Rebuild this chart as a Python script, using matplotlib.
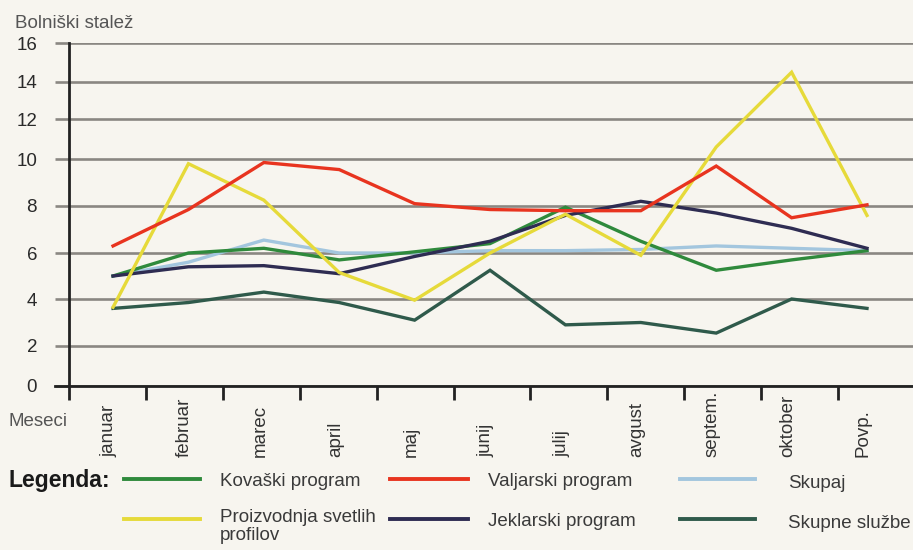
import numpy as np
import matplotlib
matplotlib.use("Agg")
import matplotlib.pyplot as plt
from matplotlib.lines import Line2D
from matplotlib import transforms

plt.rcParams['font.family'] = ['Liberation Sans', 'DejaVu Sans']

# ---------------- data ----------------
months = ["januar", "februar", "marec", "april", "maj", "junij", "julij",
          "avgust", "septem.", "oktober", "Povp."]
kovaski    = [5.0, 6.0, 6.2, 5.7, 6.05, 6.4, 7.95, 6.5, 5.25, 5.7, 6.1]
valjarski  = [6.3, 7.85, 9.85, 9.55, 8.1, 7.85, 7.8, 7.8, 9.7, 7.5, 8.05]
skupaj     = [5.0, 5.6, 6.55, 6.0, 6.0, 6.1, 6.1, 6.15, 6.3, 6.2, 6.1]
proizvodnja = [3.65, 9.8, 8.25, 5.15, 3.95, 6.0, 7.65, 5.9, 10.6, 14.5, 7.6]
jeklarski  = [5.0, 5.4, 5.45, 5.1, 5.85, 6.5, 7.6, 8.2, 7.7, 7.05, 6.2]
skupne     = [3.6, 3.85, 4.3, 3.85, 3.1, 5.25, 2.9, 3.0, 2.55, 4.0, 3.6]

y_ticks = [0, 2, 4, 6, 8, 10, 12, 14, 16]
series_labels = ["Kovaški program", "Valjarski program", "Skupaj",
                 "Proizvodnja svetlih\nprofilov", "Jeklarski program", "Skupne službe"]
series_values = [kovaski, valjarski, skupaj, proizvodnja, jeklarski, skupne]
series_colors = ["#2f8a3c", "#e8341f", "#a3c6de", "#e6da3a", "#2e2c52", "#2f5a4b"]

# non-uniform printed y-axis (gridline spacing as in the printed chart)
grid_pos = [0, 40, 87, 133, 180, 227, 267, 304, 343]

def fwd(v):
    return np.interp(v, y_ticks, grid_pos)

def inv(p):
    return np.interp(p, grid_pos, y_ticks)

W, H = 913, 550
fig = plt.figure(figsize=(W / 100, H / 100), dpi=100)
bg = "#f7f5ef"
fig.patch.set_facecolor(bg)

def fx(px):
    return px / W

def fy(py):
    return 1 - py / H

ax = fig.add_axes([fx(69), fy(386), fx(913) - fx(69), fy(43) - fy(386)])
ax.set_facecolor(bg)
ax.set_yscale('function', functions=(fwd, inv))
ax.set_ylim(0, 16)
ax.set_xlim(-0.584, 10.61)

# grid
ax.set_yticks(y_ticks)
ax.set_yticklabels([str(t) for t in y_ticks], fontsize=13.5, color="#2a2a2a")
ax.yaxis.grid(True, color="#8a8782", linewidth=1.9)
ax.set_axisbelow(True)
ax.tick_params(axis='y', direction='out', length=10, width=1.9, color="#8a8782", pad=13)

xt = np.arange(len(months)) * 1.02 - 0.584
ax.set_xticks(xt)
ax.set_xticklabels([])
ax.tick_params(axis='x', direction='out', length=10, width=2, color="#222222")

for s in ['top', 'right']:
    ax.spines[s].set_visible(False)
for s in ['left', 'bottom']:
    ax.spines[s].set_color("#222222")
    ax.spines[s].set_linewidth(2)

x = np.arange(len(months))
order = [2, 0, 4, 5, 3, 1]
for i in order:
    ax.plot(x, series_values[i], color=series_colors[i], linewidth=2.4,
            solid_joinstyle='miter', zorder=3 + order.index(i))

# extend the zero line a bit to the left like the gridlines
fig.add_artist(Line2D([fx(55), fx(69)], [fy(386), fy(386)], color="#222222",
                      linewidth=2, transform=fig.transFigure))

# month labels
trans = transforms.blended_transform_factory(ax.transData, fig.transFigure)
for i, m in enumerate(months):
    ax.text(i - 0.05, fy(457), m, rotation=90, ha='center', va='bottom',
            fontsize=13.5, color="#333333", transform=trans, clip_on=False)

fig.text(fx(8), fy(421), "Meseci", fontsize=13.5, color="#555555", va='center', ha='left')
fig.text(fx(15), fy(23), "Bolniški stalež", fontsize=13.5, color="#555555", va='center', ha='left')

# legend
fig.text(fx(8), fy(481), "Legenda:", fontsize=16.5, fontweight='bold', color="#1a1a1a",
         va='center', ha='left')
leg_line_x = [(124, 200), (390, 468), (680, 755)]
leg_text_x = [220, 488, 788]
leg_row_y = [479, 519]
for k in range(6):
    col = k % 3
    row = k // 3
    x0, x1 = leg_line_x[col]
    yy = leg_row_y[row]
    fig.add_artist(Line2D([fx(x0), fx(x1)], [fy(yy), fy(yy)], color=series_colors[k],
                          linewidth=2.8, transform=fig.transFigure))
    ty = yy + (5 if col == 2 else 2)
    if row == 1 and col == 0:
        fig.text(fx(leg_text_x[col]), fy(yy - 10), series_labels[k], fontsize=13.5,
                 color="#3a3a3a", va='top', ha='left', linespacing=1.1)
    else:
        fig.text(fx(leg_text_x[col]), fy(ty), series_labels[k], fontsize=13.5,
                 color="#3a3a3a", va='center', ha='left')

fig.savefig("out.png", dpi=100, facecolor=bg)
